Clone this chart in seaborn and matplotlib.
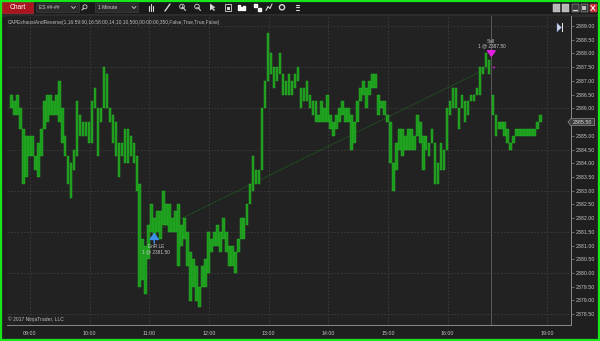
import numpy as np
import pandas as pd
import matplotlib
matplotlib.use("Agg")
import matplotlib.pyplot as plt
import seaborn as sns
from matplotlib.patches import Rectangle, Polygon, Circle
from matplotlib.transforms import blended_transform_factory

# ---------------- data ----------------
instrument = "ES ##-##"
interval = "1 Minute"
indicator_label = "CAPExhaustAndReverse(1,16:59:00,16:58:00,14,10,10,500,00:00:00,350,False,True,True,False)"
copyright_text = "© 2017 NinjaTrader, LLC"

bar_minutes = 3
session1_start = "08:40"
session2_start = "18:04"

session1_high = [
    2386.5, 2386.25, 2386.5, 2386.0, 2385.25, 2385.0, 2385.0, 2385.0, 2384.25, 2384.75,
    2385.25, 2386.25, 2386.5, 2386.5, 2386.25, 2386.5, 2387.0, 2386.0, 2385.0, 2384.25,
    2384.0, 2384.5, 2386.25, 2385.75, 2385.5, 2385.5, 2385.5, 2386.25, 2386.75, 2386.0,
    2386.0, 2387.5, 2387.25, 2386.0, 2385.75, 2385.5, 2384.75, 2384.75, 2385.25, 2385.25,
    2385.0, 2384.75, 2384.25, 2383.25, 2381.25, 2381.0, 2381.75, 2382.5, 2382.0, 2382.25,
    2382.25, 2383.0, 2382.5, 2382.5, 2382.0, 2382.25, 2382.5, 2381.75, 2382.0, 2381.5,
    2380.75, 2380.5, 2380.25, 2379.5, 2380.25, 2380.5, 2381.5, 2381.25, 2381.5, 2381.75,
    2381.5, 2382.0, 2381.5, 2381.0, 2381.0, 2380.75, 2381.25, 2382.0, 2382.0, 2382.5,
    2383.25, 2384.25, 2383.75, 2383.75, 2386.0, 2387.0, 2388.75, 2388.0, 2387.5, 2387.5,
    2388.0, 2387.25, 2387.0, 2387.25, 2387.0, 2387.25, 2387.5, 2386.75, 2386.75, 2387.0,
    2386.5, 2386.25, 2386.25, 2385.75, 2386.25, 2386.0, 2386.5, 2385.75, 2385.5, 2385.75,
    2386.0, 2386.25, 2386.0, 2386.0, 2385.75, 2385.5, 2386.25, 2386.75, 2387.0, 2386.75,
    2387.0, 2387.25, 2387.25, 2386.5, 2386.25, 2386.25, 2385.75, 2385.5, 2384.0, 2384.75,
    2385.25, 2385.25, 2385.0, 2385.25, 2385.25, 2385.0, 2385.75, 2385.5, 2385.0, 2385.0,
    2384.75, 2385.25, 2384.75, 2384.0, 2384.75, 2384.5, 2386.0, 2386.25, 2386.75, 2386.75,
    2386.0, 2386.5, 2386.25, 2386.25, 2386.5, 2386.5, 2386.75, 2387.5, 2387.5, 2388.0,
    2387.75,
]
session1_low = [
    2386.0, 2385.75, 2385.75, 2385.25, 2383.25, 2383.5, 2384.25, 2384.25, 2383.75, 2383.5,
    2384.25, 2385.25, 2385.5, 2385.75, 2385.75, 2385.75, 2385.5, 2384.75, 2384.25, 2383.25,
    2382.75, 2383.75, 2384.25, 2385.0, 2385.0, 2385.0, 2384.75, 2384.75, 2386.0, 2384.25,
    2385.5, 2386.0, 2386.0, 2385.5, 2384.75, 2384.25, 2383.5, 2384.25, 2384.0, 2384.0,
    2384.25, 2384.0, 2383.0, 2379.5, 2379.75, 2379.25, 2380.5, 2381.5, 2381.25, 2381.5,
    2381.25, 2381.75, 2381.75, 2381.5, 2381.5, 2381.5, 2380.25, 2381.0, 2381.25, 2380.25,
    2379.0, 2379.5, 2379.0, 2378.75, 2379.5, 2379.5, 2380.0, 2380.75, 2381.0, 2381.0,
    2380.75, 2381.25, 2380.75, 2380.25, 2380.25, 2380.0, 2380.75, 2381.25, 2381.25, 2381.75,
    2382.5, 2383.0, 2383.25, 2383.25, 2383.75, 2386.0, 2387.0, 2387.25, 2386.75, 2387.0,
    2387.25, 2386.5, 2386.5, 2386.5, 2386.5, 2386.75, 2387.0, 2386.0, 2386.25, 2386.25,
    2386.0, 2385.75, 2385.5, 2385.5, 2385.5, 2385.5, 2385.5, 2385.25, 2385.0, 2385.25,
    2385.5, 2385.75, 2385.5, 2385.5, 2384.5, 2384.75, 2385.5, 2386.25, 2386.5, 2386.0,
    2386.5, 2386.75, 2386.75, 2385.75, 2386.0, 2385.75, 2385.5, 2384.0, 2383.0, 2383.75,
    2384.5, 2384.25, 2384.5, 2384.5, 2384.5, 2384.5, 2385.0, 2384.75, 2383.75, 2384.5,
    2384.25, 2384.75, 2383.25, 2383.25, 2383.75, 2383.75, 2384.5, 2385.75, 2386.0, 2386.0,
    2385.25, 2386.0, 2385.5, 2385.75, 2386.25, 2386.25, 2386.5, 2386.5, 2387.25, 2387.5,
    2387.25,
]
session2_high = [
    2386.5, 2385.75, 2385.5, 2385.5, 2385.5, 2385.25, 2384.75, 2385.0, 2385.25, 2385.25,
    2385.25, 2385.25, 2385.25, 2385.25, 2385.25, 2385.5, 2385.75,
]
session2_low = [
    2385.75, 2385.0, 2385.25, 2385.25, 2385.0, 2384.75, 2384.5, 2384.75, 2385.0, 2385.0,
    2385.0, 2385.0, 2385.0, 2385.0, 2385.0, 2385.25, 2385.5,
]

time_tick_labels = ["09:00", "10:00", "11:00", "12:00", "13:00", "14:00", "15:00", "16:00", "19:00"]
price_tick_min, price_tick_max, price_tick_step = 2378.5, 2389.0, 0.5
grid_price_step = 1.5

entry_time, entry_price, entry_name = "11:05", 2381.50, "EnR LE"
exit_time, exit_price, exit_name = "16:42", 2387.50, "Sell"
last_price = 2385.50

# ---------------- helpers ----------------
def to_min(s):
    h, m = s.split(":")
    return int(h) * 60 + int(m)

s1_start = to_min(session1_start)
s1_len = len(session1_high) * bar_minutes
s2_start = to_min(session2_start)
s2_offset = s1_len + 1

def xpos(s):
    t = to_min(s)
    if s1_start <= t <= s1_start + s1_len:
        return t - s1_start
    return s2_offset + (t - s2_start)

rows = []
for i, (h, l) in enumerate(zip(session1_high, session1_low)):
    rows.append(dict(x=i * bar_minutes + bar_minutes / 2, high=h, low=l))
for i, (h, l) in enumerate(zip(session2_high, session2_low)):
    rows.append(dict(x=s2_offset + i * bar_minutes + bar_minutes / 2, high=h, low=l))
bars = pd.DataFrame(rows)

# ---------------- style ----------------
sns.set_theme(style="dark", rc={
    "axes.facecolor": "#222222",
    "figure.facecolor": "#1f1f1f",
    "axes.edgecolor": "#8a8a8a",
    "text.color": "#c4c4c4",
    "xtick.color": "#c4c4c4",
    "ytick.color": "#c4c4c4",
})
plt.rcParams["font.family"] = ["Liberation Sans", "DejaVu Sans"]

W, H = 600, 341
fig = plt.figure(figsize=(W / 100, H / 100), dpi=100)

# background chrome axes (pixel coordinates)
bg = fig.add_axes([0, 0, 1, 1], zorder=0)
bg.set_xlim(0, W)
bg.set_ylim(H, 0)
bg.axis("off")
bg.add_patch(Rectangle((0, 0), W, H, facecolor="#1f1f1f", edgecolor="none"))
bg.add_patch(Rectangle((0, 0), W, 13.5, facecolor="#1a1a1a", edgecolor="none"))
bg.add_patch(Rectangle((0, 13.5), W, 3, facecolor="#2c2c2c", edgecolor="none"))

# main plot axes
L, R, T, B = 7, 571, 16, 325
ax = fig.add_axes([L / W, 1 - B / H, (R - L) / W, (B - T) / H], zorder=2)
px_per_bar = 0.9945
x0 = -(10 - L) / px_per_bar
ax.set_xlim(x0, x0 + (R - L) / px_per_bar)
ppp = 27.45  # pixels per point
ax.set_ylim(2389 - (B - 26) / ppp, 2389 + (26 - T) / ppp)

# grid
ygrid = np.arange(price_tick_min, price_tick_max + 0.01, grid_price_step)
xt = [xpos(t) for t in time_tick_labels]
for g in ygrid:
    ax.axhline(g, color="#3e3e3e", lw=0.6, ls=(0, (2, 2)), zorder=0.5)
for g in xt:
    ax.axvline(g, color="#3e3e3e", lw=0.6, ls=(0, (2, 2)), zorder=0.5)
# session break
ax.axvline(s1_len + 0.5, color="#5a5a5a", lw=0.7, zorder=0.6)

# trade line
trade = pd.DataFrame({"x": [xpos(entry_time), xpos(exit_time)], "p": [entry_price, exit_price]})
sns.lineplot(data=trade, x="x", y="p", ax=ax, color="#1c7a1c", lw=0.6,
             linestyle=(0, (1.2, 1.2)), zorder=1.5, legend=False)

# price bars
ax.bar(bars["x"], bars["high"] - bars["low"], bottom=bars["low"], width=2.6,
       color="#1d9a1d", edgecolor="#2ab82a", linewidth=0.3, zorder=2)

# entry marker
ex = xpos(entry_time)
ax.annotate("", xy=(ex, entry_price - 0.02), xytext=(ex, entry_price - 0.42),
            arrowprops=dict(arrowstyle="-|>,head_width=0.25,head_length=0.35", color="#3b8fe6",
                            lw=1.0, shrinkA=0, shrinkB=0), zorder=5)
ax.text(ex + 2, entry_price - 0.52, entry_name, fontsize=3.4, color="#c8c8c8",
        ha="center", va="center", zorder=5)
ax.text(ex + 2, entry_price - 0.72, f"1 @ {entry_price:.2f}", fontsize=3.4, color="#c8c8c8",
        ha="center", va="center", zorder=5)

# exit marker
xx = xpos(exit_time) + 2
ax.annotate("", xy=(xx, 2387.86), xytext=(xx, 2388.12),
            arrowprops=dict(arrowstyle="-|>,head_width=0.22,head_length=0.3", color="#e020e0",
                            lw=1.2, shrinkA=0, shrinkB=0), zorder=5)
ax.scatter([xx + 1.5], [exit_price], marker="<", s=3, color="#e020e0", zorder=5, linewidths=0)
ax.text(xx, 2388.44, exit_name, fontsize=3.4, color="#c8c8c8", ha="center", va="center", zorder=5)
ax.text(xx, 2388.27, f"1 @ {exit_price:.2f}", fontsize=3.4, color="#c8c8c8",
        ha="center", va="center", zorder=5)

# axes styling
for s in ["top", "left"]:
    ax.spines[s].set_visible(False)
for s in ["right", "bottom"]:
    ax.spines[s].set_color("#8a8a8a")
    ax.spines[s].set_linewidth(0.7)
ax.yaxis.tick_right()
yt = np.arange(price_tick_min, price_tick_max + 0.01, price_tick_step)
ax.set_yticks(yt)
# the label at the last price is shown by the price tag instead
ax.set_yticklabels(["" if abs(v - last_price) < 1e-9 else f"{v:.2f}" for v in yt])
ax.set_xticks(xt)
ax.set_xticklabels(time_tick_labels)
ax.tick_params(axis="both", which="both", length=2, width=0.5, color="#8a8a8a",
               labelsize=3.8, labelcolor="#c4c4c4", pad=1.6)
ax.tick_params(axis="x", pad=2.2)
ax.grid(False)
ax.set_xlabel("")
ax.set_ylabel("")

# current price tag
tr = blended_transform_factory(ax.transAxes, ax.transData)
hp = 3.5 / ppp
tag = Polygon([(0.9945, last_price), (1.0, last_price + hp), (1.042, last_price + hp),
               (1.042, last_price - hp), (1.0, last_price - hp)], closed=True,
              transform=tr, facecolor="#3d3d3d", edgecolor="#a8a8a8", lw=0.4,
              clip_on=False, zorder=6)
ax.add_patch(tag)
ax.text(1.021, last_price, f"{last_price:.2f}", transform=tr, fontsize=3.8, color="#e6e6e6",
        ha="center", va="center", clip_on=False, zorder=7)

# overlay (pixel coords)
ov = fig.add_axes([0, 0, 1, 1], zorder=10)
ov.set_xlim(0, W)
ov.set_ylim(H, 0)
ov.axis("off")
ov.patch.set_alpha(0)

ov.text(8, 22.5, indicator_label, fontsize=3.5, color="#bdbdbd", va="center", ha="left")
ov.text(8, 319.5, copyright_text, fontsize=3.6, color="#bdbdbd", va="center", ha="left")

# toolbar
ov.add_patch(Rectangle((2, 2), 31, 11, facecolor="#a9161f", edgecolor="#c83038", lw=0.4))
ov.text(17.5, 7.8, "Chart", fontsize=4.8, color="white", ha="center", va="center")
ov.add_patch(Rectangle((36, 3), 43, 9, facecolor="#2b2b2b", edgecolor="#454545", lw=0.4))
ov.text(39, 7.6, instrument, fontsize=3.6, color="#cfcfcf", ha="left", va="center")
ov.plot([71.5, 73.5, 75.5], [6.5, 8.5, 6.5], color="#cfcfcf", lw=0.6)
ov.add_patch(Circle((85, 6.8), 2.0, facecolor="none", edgecolor="#cfcfcf", lw=0.6))
ov.plot([83.5, 82], [8.3, 10], color="#cfcfcf", lw=0.8)
ov.add_patch(Rectangle((95, 3), 43, 9, facecolor="#2b2b2b", edgecolor="#454545", lw=0.4))
ov.text(98, 7.6, interval, fontsize=3.6, color="#cfcfcf", ha="left", va="center")
ov.plot([132, 134, 136], [6.5, 8.5, 6.5], color="#cfcfcf", lw=0.6)
ic = "#d6d6d6"
for dx in [-2, 0, 2]:
    ov.plot([151 + dx, 151 + dx], [4 + abs(dx), 11], color=ic, lw=0.8)
ov.plot([165, 170], [11, 4], color=ic, lw=1.0)
for cx, plus in [(182, True), (197, False)]:
    ov.add_patch(Circle((cx, 6.5), 2.3, facecolor="none", edgecolor=ic, lw=0.6))
    ov.plot([cx + 1.6, cx + 3.4], [8.1, 10.5], color=ic, lw=0.8)
    ov.plot([cx - 1.1, cx + 1.1], [6.5, 6.5], color=ic, lw=0.5)
    if plus:
        ov.plot([cx, cx], [5.4, 7.6], color=ic, lw=0.5)
ov.add_patch(Polygon([(210, 3.5), (210, 10.5), (212, 9), (214, 11), (215, 10), (213, 8), (215.5, 7.5)],
                     closed=True, facecolor=ic, edgecolor="none"))
ov.add_patch(Rectangle((225, 3.5), 5.5, 7.5, facecolor="none", edgecolor=ic, lw=0.6))
ov.add_patch(Rectangle((227, 6.5), 2.5, 3.5, facecolor=ic, edgecolor="none"))
ov.add_patch(Rectangle((238, 5), 1.5, 5, facecolor=ic))
ov.add_patch(Rectangle((240.5, 7), 1.5, 3, facecolor=ic))
ov.add_patch(Rectangle((243, 6), 1.5, 4, facecolor=ic))
ov.add_patch(Rectangle((254, 4), 3, 3, facecolor=ic))
ov.add_patch(Rectangle((258, 7.5), 3, 3, facecolor=ic))
ov.plot([266, 268, 270, 272], [10.5, 6.5, 8.5, 4], color=ic, lw=0.8)
ov.add_patch(Circle((282, 7.3), 2.6, facecolor="none", edgecolor=ic, lw=1.0))
for yy in [4.8, 7.3, 9.8]:
    ov.plot([293.5, 294.3], [yy, yy], color=ic, lw=0.8)
    ov.plot([295.5, 299], [yy, yy], color=ic, lw=0.8)

# window buttons
ov.add_patch(Rectangle((553, 4), 7, 8, facecolor="#b5b5b5", edgecolor="#dddddd", lw=0.3))
ov.add_patch(Rectangle((562, 4), 7, 8, facecolor="#b5b5b5", edgecolor="#dddddd", lw=0.3))
ov.add_patch(Rectangle((571.5, 4), 7, 8, facecolor="#3a3a3a", edgecolor="#cfcfcf", lw=0.3))
ov.plot([573, 577], [9.5, 9.5], color="#e0e0e0", lw=0.8)
ov.add_patch(Rectangle((580.5, 4), 7, 8, facecolor="#3a3a3a", edgecolor="#cfcfcf", lw=0.3))
ov.add_patch(Rectangle((582, 6), 4, 4, facecolor="#bdbdbd", edgecolor="none"))
ov.add_patch(Rectangle((589.5, 4), 7, 8, facecolor="#c8242c", edgecolor="#e06060", lw=0.3))
ov.plot([591, 595], [5.5, 10.5], color="white", lw=0.7)
ov.plot([591, 595], [10.5, 5.5], color="white", lw=0.7)

# NinjaTrader logo (right-top inside chart)
ov.add_patch(Polygon([(557, 23), (557, 32), (561.5, 27.5)], closed=True, facecolor="#cfd6e6",
                     edgecolor="#6a86c0", lw=0.3))
ov.add_patch(Rectangle((562, 23), 1.4, 9, facecolor="#e6e6e6", edgecolor="none"))

# green window border
ov.add_patch(Rectangle((1, 1), W - 2.5, H - 2, facecolor="none", edgecolor="#19e619", lw=1.6))

fig.savefig("out.png", dpi=100, facecolor=fig.get_facecolor())
